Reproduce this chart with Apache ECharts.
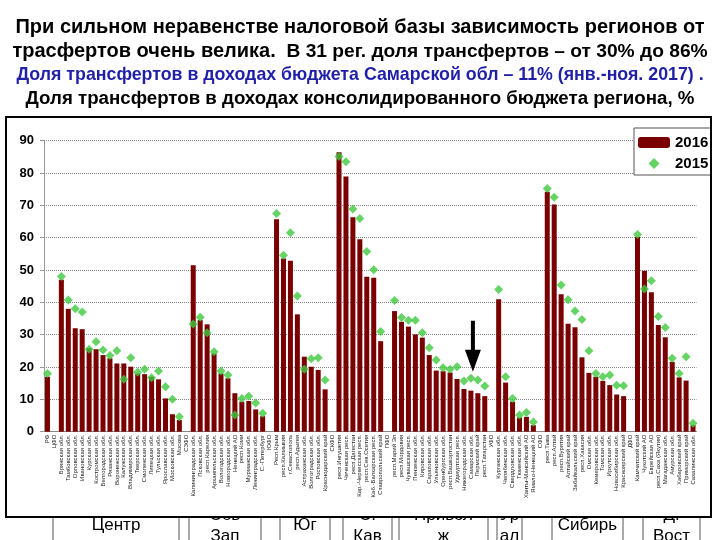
<!DOCTYPE html>
<html>
<head>
<meta charset="utf-8">
<script src="https://cdn.jsdelivr.net/npm/echarts@6/dist/echarts.min.js"></script>
<style>
  html, body { margin: 0; padding: 0; background: #fff; }
  #chart { width: 720px; height: 540px; }
</style>
</head>
<body>
<div id="chart"></div>
<script>
// regions, grouped by federal district (district names are empty columns)
const categories = [
  'РФ', 'ЦФО',
  'Брянская обл.', 'Тамбовская обл.', 'Орловская обл.', 'Ивановская обл.', 'Курская обл.',
  'Костромская обл.', 'Белгородская обл.', 'Рязанская обл.', 'Воронежская обл.', 'Калужская обл.',
  'Владимирская обл.', 'Тверская обл.', 'Смоленская обл.', 'Липецкая обл.', 'Тульская обл.',
  'Ярославская обл.', 'Московская обл.', 'Москва',
  'СЗФО',
  'Калининградская обл.', 'Псковская обл.', 'респ.Карелия', 'Архангельская обл.', 'Вологодская обл.',
  'Новгородская обл.', 'Ненецкий АО', 'респ.Коми', 'Мурманская обл.', 'Ленинградская обл.', 'С.-Петербург',
  'ЮФО',
  'Респ.Крым', 'респ.Калмыкия', 'г.Севастополь', 'респ.Адыгея', 'Астраханская обл.',
  'Волгоградская обл.', 'Ростовская обл.', 'Краснодарский край',
  'СКФО',
  'респ.Ингушетия', 'Чеченская респ.', 'респ.Дагестан', 'Кар.-Черкесская респ.', 'респ.Сев.Осетия',
  'Каб.-Балкарская респ.', 'Ставропольский край',
  'ПФО',
  'респ.Марий Эл', 'респ.Мордовия', 'Чувашская респ.', 'Пензенская обл.', 'Кировская обл.',
  'Саратовская обл.', 'Ульяновская обл.', 'Оренбургская обл.', 'респ.Башкортостан', 'Удмуртская респ.',
  'Нижегородская обл.', 'Самарская обл.', 'Пермский край', 'респ.Татарстан',
  'УФО',
  'Курганская обл.', 'Челябинская обл.', 'Свердловская обл.', 'Тюменская обл.',
  'Ханты-Мансийский АО', 'Ямало-Ненецкий АО',
  'СФО',
  'респ.Тыва', 'респ.Алтай', 'респ.Бурятия', 'Алтайский край', 'Забайкальский край', 'респ.Хакасия',
  'Омская обл.', 'Кемеровская обл.', 'Томская обл.', 'Иркутская обл.', 'Новосибирская обл.',
  'Красноярский край',
  'ДФО',
  'Камчатский край', 'Чукотский АО', 'Еврейская АО', 'респ.Саха (Якутия)', 'Магаданская обл.',
  'Амурская обл.', 'Хабаровский край', 'Приморский край', 'Сахалинская обл.'
];

const share2016 = [
  17, null,
  47, 38, 32, 31.7, 25.8, 25.5, 23.7, 22.7, 21.1, 21.1, 20.1, 18, 17.8, 17, 16.2, 10.3, 5.4, 3.6,
  null,
  51.5, 34.5, 33.2, 24.2, 18, 16.5, 11.9, 9.3, 9.5, 6.9, 4.8,
  null,
  65.7, 53.6, 52.9, 36.3, 23.2, 20.1, 19.1, 13.1,
  null,
  86.4, 78.9, 66.3, 59.5, 47.9, 47.6, 28,
  null,
  37.3, 34, 32.5, 30.1, 29.1, 23.7, 18.9, 18.7, 18.3, 16.3, 13.2, 12.7, 11.9, 11,
  null,
  41, 15.2, 9.3, 4.4, 4.6, 2,
  null,
  74.2, 70.3, 42.5, 33.4, 32.3, 23, 18.2, 17, 15.7, 14.4, 11.5, 11,
  null,
  60.3, 49.8, 43.1, 33, 29.2, 21.6, 16.8, 15.8, 2
];

const share2015 = [
  18, null,
  48, 40.7, 38, 37, 25.5, 27.8, 25.3, 23.6, 25, 16.2, 22.9, 18.4, 19.3, 16.7, 18.8, 13.9, 10, 4.6,
  null,
  33.3, 35.4, 30.6, 24.7, 18.8, 17.5, 5.2, 10.3, 11, 8.9, 5.7,
  null,
  67.5, 54.6, 61.5, 42, 19.3, 22.6, 22.9, 16,
  null,
  85.1, 83.5, 68.9, 65.9, 55.7, 50.1, 31,
  null,
  40.6, 35.3, 34.5, 34.5, 30.6, 26, 22.2, 19.8, 19.3, 20.1, 15.7, 16.5, 16, 14.1,
  null,
  44, 17, 10.3, 5.2, 5.9, 3,
  null,
  75.2, 72.5, 45.4, 40.8, 37.3, 34.7, 25, 18, 17, 17.5, 14.4, 14.2,
  null,
  61, 44.1, 46.7, 35.6, 32.2, 22.7, 18, 23.2, 2.6
];

const pointedRegion = 'Самарская обл.';

// district boxes under the frame (text only)
const districtNames = ['Центр', 'Сев\nЗап', 'Юг', 'С.\nКав', 'Привол\nж', 'Ур\nал', 'Сибирь', 'Д.\nВост'];
const boxX = [[53, 179], [189, 261], [280, 330], [343, 392], [399, 488], [497, 522], [552, 623], [643, 700]];

const font = '"Liberation Sans", Arial, sans-serif';

const boxes = [];
districtNames.forEach(function (name, i) {
  const x0 = boxX[i][0], x1 = boxX[i][1];
  const twoLines = name.indexOf('\n') >= 0;
  boxes.push({
    type: 'rect', z: 1,
    shape: { x: x0, y: 505, width: x1 - x0, height: 50 },
    style: { fill: '#fff', stroke: '#555', lineWidth: 1 }
  });
  boxes.push({
    type: 'text', z: 2,
    x: (x0 + x1) / 2, y: twoLines ? 526 : 525,
    style: {
      text: name, font: '17px ' + font, fill: '#000',
      align: 'center', verticalAlign: 'middle', lineHeight: 21
    }
  });
});
// hide the top of the boxes behind the chart frame
boxes.push({
  type: 'rect', z: 3,
  shape: { x: 7, y: 503, width: 703, height: 14 },
  style: { fill: '#fff' }
});

const chart = echarts.init(document.getElementById('chart'));
chart.setOption({
  animation: false,
  backgroundColor: '#fff',
  title: {
    left: 'center',
    top: 11,
    text: '{b|При сильном неравенстве налоговой базы зависимость регионов от}\n' +
      '{b|трасфертов очень велика.}{n|  В 31 рег. доля трансфертов – от 30% до 86%}\n' +
      '{blue|Доля трансфертов в доходах бюджета Самарской обл – 11% (янв.-ноя. 2017) .}\n' +
      '{m|Доля трансфертов в доходах консолидированного бюджета региона, %}',
    textStyle: {
      fontFamily: font,
      lineHeight: 23.5,
      rich: {
        b: { fontSize: 20, fontWeight: 'bold', color: '#000', fontFamily: font, lineHeight: 23.5 },
        n: { fontSize: 19.2, color: '#000', fontFamily: font, lineHeight: 23.5 },
        blue: { fontSize: 17.8, fontWeight: 'bold', color: '#1f1fa8', fontFamily: font, lineHeight: 23.5 },
        m: { fontSize: 18.7, color: '#000', fontFamily: font, lineHeight: 24.5 }
      }
    }
  },
  legend: {
    left: 634,
    top: 128,
    orient: 'vertical',
    padding: [7, 3, 4, 4],
    itemWidth: 32,
    itemHeight: 11,
    itemGap: 6,
    borderColor: '#555',
    borderWidth: 1,
    backgroundColor: '#fff',
    symbolKeepAspect: true,
    textStyle: { fontSize: 15, fontWeight: 'bold', color: '#000', fontFamily: font },
    data: [
      { name: '2016' },
      { name: '2015', icon: 'path://M5,0 L10,5 L5,10 L0,5 Z' }
    ]
  },
  grid: { left: 44, right: 23.5, top: 140.7, bottom: 108.3 },
  xAxis: {
    type: 'category',
    data: categories,
    axisLine: { lineStyle: { color: '#888' } },
    axisTick: { show: false },
    axisLabel: {
      interval: 0, rotate: 90, fontSize: 6, margin: 3,
      color: '#222', fontFamily: font
    }
  },
  yAxis: {
    type: 'value',
    min: 0, max: 90, interval: 10,
    axisLine: { show: true, lineStyle: { color: '#999' } },
    axisTick: { show: true, length: 4, lineStyle: { color: '#999' } },
    axisLabel: { fontSize: 13, fontWeight: 'bold', color: '#000', margin: 10, fontFamily: font },
    splitLine: { lineStyle: { color: '#888', type: 'dotted' } }
  },
  series: [
    {
      name: '2016',
      type: 'bar',
      data: share2016,
      barWidth: 5,
      itemStyle: { color: '#7a0000' },
      markPoint: {
        symbol: 'path://M6,0 L10,0 L10,29 L16,29 L8,51 L0,29 L6,29 Z',
        symbolSize: [16, 51],
        symbolOffset: [2, 0],
        itemStyle: { color: '#000' },
        label: { show: false },
        data: [{ coord: [pointedRegion, 26.4] }]
      }
    },
    {
      name: '2015',
      type: 'scatter',
      data: share2015,
      symbol: 'diamond',
      symbolSize: 9,
      itemStyle: { color: '#3ec93e' },
      z: 3
    }
  ],
  graphic: boxes.concat([{
    type: 'rect', z: 4,
    shape: { x: 6, y: 117, width: 705, height: 400 },
    style: { fill: 'none', stroke: '#000', lineWidth: 2 }
  }])
});
</script>
</body>
</html>
